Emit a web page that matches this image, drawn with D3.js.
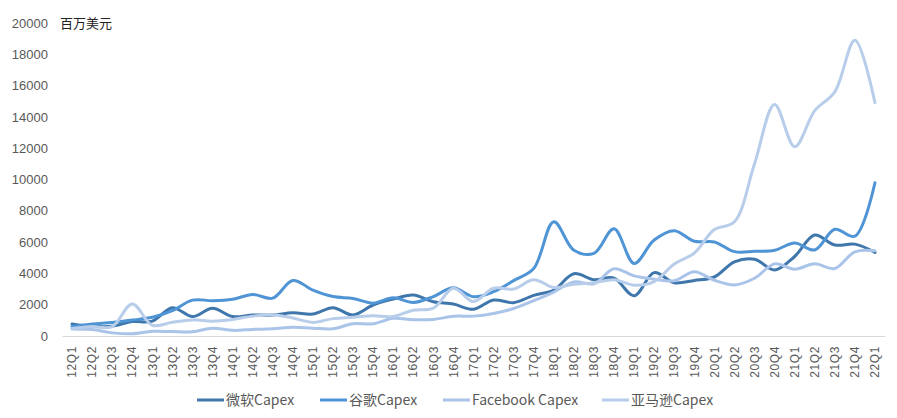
<!DOCTYPE html>
<html><head><meta charset="utf-8">
<script src="https://cdn.jsdelivr.net/npm/d3@7"></script>
<style>
html,body{margin:0;padding:0;background:#fff;}
svg{display:block;font-family:"Noto Sans CJK SC","Liberation Sans",sans-serif;}
</style></head>
<body><svg id="c" width="897" height="418"></svg>
<script>
const quarters = ["12Q1","12Q2","12Q3","12Q4","13Q1","13Q2","13Q3","13Q4","14Q1","14Q2","14Q3","14Q4",
  "15Q1","15Q2","15Q3","15Q4","16Q1","16Q2","16Q3","16Q4","17Q1","17Q2","17Q3","17Q4",
  "18Q1","18Q2","18Q3","18Q4","19Q1","19Q2","19Q3","19Q4","20Q1","20Q2","20Q3","20Q4",
  "21Q1","21Q2","21Q3","21Q4","22Q1"];
const seriesNames = ["微软Capex","谷歌Capex","Facebook Capex","亚马逊Capex"];
const msft = [770,620,620,920, 950,1810,1240,1770, 1240,1340,1340,1490, 1400,1810,1340,1980,
  2360,2620,2190,2040, 1710,2300,2130,2600, 2940,3980,3600,3700, 2570,4050,3400,3550,
  3770,4740,4910,4220, 5080,6450,5810,5870, 5340];
const google = [610,770,870,1020, 1200,1620,2290,2260, 2350,2650,2420,3550, 2930,2520,2400,2100,
  2440,2140,2520,3080, 2510,2830,3540,4310, 7300,5480,5280,6850, 4640,6130,6730,6050,
  6010,5390,5410,5480, 5940,5500,6820,6380, 9790];
const facebook = [450,410,200,140, 300,280,270,500, 360,420,470,560, 500,460,780,780,
  1130,1040,1060,1260, 1270,1440,1760,2260, 2810,3460,3340,4300, 3840,3630,3530,4100,
  3560,3260,3690,4610, 4270,4610,4310,5380, 5440];
const amazon = [480,600,600,2050, 680,880,1030,950, 1060,1270,1360,1150, 870,1110,1200,1300,
  1250,1650,1780,3050, 2200,3050,3000,3600, 3100,3300,3400,3600, 3250,3480,4600,5300,
  6800,7300,11000,14800, 12100,14400,15600,18900, 14900];
const yTicks = [0,2000,4000,6000,8000,10000,12000,14000,16000,18000,20000];
const unitLabel = "百万美元";
const colors = ["#3f77ac","#4f94d4","#a9c4e8","#b7cdea"];

const allSeries = [msft, google, facebook, amazon];
const svg = d3.select("#c");
const x = d3.scaleBand().domain(quarters).range([62, 885]);
const y = d3.scaleLinear().domain([0, 20000]).range([336, 23]);
const xc = q => x(q) + x.bandwidth()/2;

// y axis labels
const yAxis = d3.axisLeft(y).tickValues(yTicks).tickSize(0).tickPadding(0).tickFormat(d3.format("d"));
const yg = svg.append("g").attr("transform","translate(48,0)").call(yAxis);
yg.select(".domain").remove();
yg.selectAll("text").attr("fill","#595959").attr("font-size",13)
  .attr("font-family","'Liberation Sans',sans-serif");

svg.append("text").attr("x",60).attr("y",28).attr("font-size",13).attr("fill","#222").text(unitLabel);

// x axis
const xAxis = d3.axisBottom(x).tickSize(0).tickPadding(0);
const xg = svg.append("g").attr("transform","translate(0,336)").call(xAxis);
xg.select(".domain").attr("stroke","#d9d9d9").attr("stroke-width",1);
xg.selectAll("text").attr("fill","#595959").attr("font-size",12)
  .attr("font-family","'Liberation Sans',sans-serif")
  .attr("letter-spacing","0.6px")
  .attr("text-anchor","end").attr("dy","0.35em")
  .attr("transform","translate(0,10) rotate(-90)").attr("x",0).attr("y",0);

// lines
const line = d3.line().x((d,i)=>xc(quarters[i])).y(d=>y(d)).curve(d3.curveCatmullRom.alpha(0.5));
allSeries.forEach((s,k)=>{
  svg.append("path").datum(s).attr("d",line).attr("fill","none")
    .attr("stroke",colors[k]).attr("stroke-width",3).attr("stroke-linejoin","round").attr("stroke-linecap","round");
});

// legend
const legX = [197,320,443,602];
seriesNames.forEach((n,k)=>{
  const g = svg.append("g").attr("transform",`translate(${legX[k]},400)`);
  g.append("line").attr("x1",0).attr("x2",27).attr("y1",0).attr("y2",0)
    .attr("stroke",colors[k]).attr("stroke-width",3);
  g.append("text").attr("x",29).attr("y",0).attr("dy","0.35em").attr("font-size",14)
    .attr("fill","#595959").text(n);
});
</script></body></html>
